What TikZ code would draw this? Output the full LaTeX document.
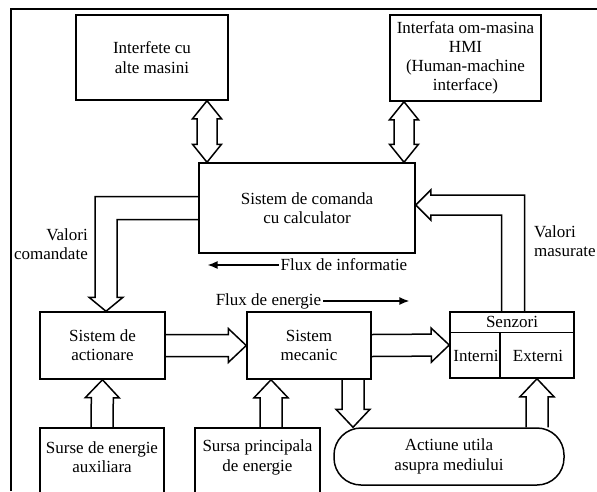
\documentclass[tikz,border=0pt]{standalone}
\usepackage{fontspec}
\setmainfont{Liberation Serif}
\usetikzlibrary{calc,arrows.meta}

\tikzset{
  box/.style={draw, line width=1.5pt, align=center},
  hollow/.style={draw, line width=1.5pt, line join=miter},
  flux/.style={-{Latex[length=10pt,width=8pt]}, line width=1.6pt},
}

\begin{document}
\begin{tikzpicture}[x=1pt, y=-1pt, font=\fontsize{17}{19.2}\selectfont,
    every node/.style={inner sep=2pt}]
  \useasboundingbox (0,0) rectangle (597,491);
  \draw[line width=1.5pt] (11,491) -- (11,9) -- (597,9); % frame

  % blocks
  \node[box, minimum width=152pt, minimum height=85pt] (intf) at (152,57.5) {Interfete cu\\alte masini};
  \node[box, minimum width=151pt, minimum height=86pt] (hmi) at (465.5,58) {Interfata om-masina\\HMI\\(Human-machine\\interface)};
  \node[box, minimum width=216pt, minimum height=90pt] (cmd) at (307,208) {Sistem de comanda\\cu calculator};
  \node[box, minimum width=125pt, minimum height=67pt] (actn) at (102.5,345.5) {Sistem de\\actionare};
  \node[box, minimum width=124pt, minimum height=67pt] (mec) at (309,345.5) {Sistem\\mecanic};
  \node[box, minimum width=124pt, minimum height=66pt] (senz) at (512,345) {};
  \node[box, minimum width=230pt, minimum height=57pt, rounded corners=27pt] (mediu) at (449,456.5) {Actiune utila\\asupra mediului};
  \node[align=center, minimum width=124pt, minimum height=59pt] (aux) at (102,457.5) {Surse de energie\\auxiliara};
  \node[align=center, minimum width=125pt, minimum height=59pt] (princ) at (257.5,457.5) {Sursa principala\\de energie};
  \foreach \n in {aux, princ}
    \draw[line width=1.5pt] ([yshift=-10pt]\n.south west) |- (\n.north east) -- ([yshift=-10pt]\n.south east);

  % senzori split
  \coordinate (sdiv) at ([yshift=-21pt]senz.north);
  \draw[line width=1.5pt] (senz.west |- sdiv) -- (senz.east |- sdiv);
  \draw[line width=1.5pt] ([xshift=-12pt]sdiv) -- ([xshift=-12pt]senz.south);
  \node (sztit) at ([yshift=-10.5pt]senz.north) {Senzori};
  \node (sint) at (476,356) {Interni};
  \node (sext) at (538,356) {Externi};

  % labels
  \node[align=right, anchor=east] (vcom) at (90,244) {Valori\\comandate};
  \node[align=left, anchor=west] (vmas) at (532,241) {Valori\\masurate};
  \node (finf) at (344,265) {Flux de informatie};
  \node (fen) at (268.5,301) {Flux de energie};
  \draw[flux] (finf.west) -- ++(-71,0);
  \draw[flux] (fen.east) -- ++(86,0);

  % double arrows
  \coordinate (d1) at ([xshift=55pt]intf.south);
  \coordinate (d2) at ([xshift=-61.5pt]hmi.south);
  \foreach \s/\t in {d1/cmd, d2/cmd} {
    \coordinate (e) at (\s |- \t.north);
    \coordinate (h1) at ($(\s)!18pt!(e)$);
    \coordinate (h2) at ($(e)!18pt!(\s)$);
    \draw[hollow] (\s) -- ($(h1)!14.5pt!90:(e)$) -- ($(h1)!10pt!90:(e)$) -- ($(h2)!10pt!90:(e)$)
      -- ($(h2)!14.5pt!90:(e)$) -- (e) -- ($(h2)!14.5pt!-90:(e)$) -- ($(h2)!10pt!-90:(e)$)
      -- ($(h1)!10pt!-90:(e)$) -- ($(h1)!14.5pt!-90:(e)$) -- cycle;
  }

  % energy arrows
  \coordinate (p1) at ([xshift=13.5pt]princ.north);
  \coordinate (p2) at (p1 |- mec.south);
  \coordinate (m1) at ([xshift=44pt]mec.south);
  \coordinate (m2) at (m1 |- mediu.north);
  \coordinate (x2) at ([xshift=25pt]senz.south);
  \coordinate (x1) at (x2 |- mediu.north);
  \foreach \s/\t in {actn.east/mec.west, mec.east/senz.west, aux.north/actn.south, p1/p2, m1/m2, x1/x2} {
    \coordinate (h) at ($(\t)!18pt!(\s)$);
    \draw[hollow] ($(\s)!11pt!90:(\t)$) -- ($(h)!11pt!90:(\t)$) -- ($(h)!17pt!90:(\t)$) -- (\t)
      -- ($(h)!17pt!-90:(\t)$) -- ($(h)!11pt!-90:(\t)$) -- ($(\s)!11pt!-90:(\t)$);
  }

  % valori comandate / masurate
  \coordinate (vctip) at ([xshift=3.5pt]actn.north);
  \draw[hollow] ([yshift=11.5pt]cmd.west) -| ($(vctip)+(-11,-14)$) -- ++(-6,0) -- (vctip)
    -- ++(17,-14) -- ++(-6,0) |- ([yshift=-11.5pt]cmd.west);
  \coordinate (vmtip) at ([yshift=3pt]cmd.east);
  \draw[hollow] ([xshift=12.5pt]senz.north) |- ($(vmtip)+(15,-10)$) -- ++(0,-5) -- (vmtip)
    -- ++(15,15) -- ++(0,-5) -| ([xshift=-10.5pt]senz.north);
\end{tikzpicture}
\end{document}
